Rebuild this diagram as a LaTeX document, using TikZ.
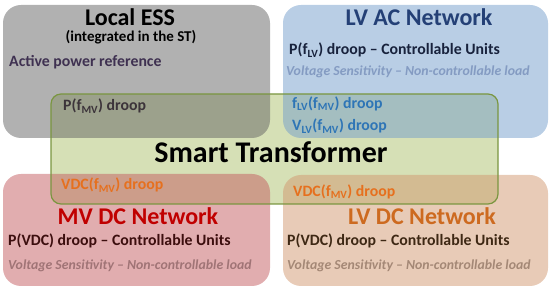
\documentclass[tikz,border=0pt]{standalone}
\usepackage{fontspec}
\setmainfont{Carlito}
\definecolor{stfill}{RGB}{214,224,182}
\definecolor{stline}{RGB}{122,150,64}
\definecolor{essfill}{RGB}{100,100,100}
\definecolor{lvacfill}{RGB}{115,157,203}
\definecolor{mvdcfill}{RGB}{196,92,96}
\definecolor{lvdcfill}{RGB}{210,152,112}
\definecolor{activec}{RGB}{63,49,81}
\definecolor{pfmvc}{RGB}{60,52,58}
\definecolor{lvactitle}{RGB}{36,64,118}
\definecolor{lvacdroop}{RGB}{24,34,60}
\definecolor{lvacvs}{RGB}{132,155,194}
\definecolor{lvacblue}{RGB}{46,117,182}
\definecolor{mvdctitle}{RGB}{192,0,0}
\definecolor{mvdcdroop}{RGB}{60,14,14}
\definecolor{mvdcvs}{RGB}{160,116,118}
\definecolor{vdcorange}{RGB}{230,112,30}
\definecolor{lvdctitle}{RGB}{205,106,32}
\definecolor{lvdcdroop}{RGB}{62,40,20}
\definecolor{lvdcvs}{RGB}{164,136,118}
\begin{document}
\begin{tikzpicture}[x=1pt,y=-1pt,
  boxnode/.style={rectangle, anchor=north west, inner sep=0pt, outer sep=0pt},
  txt/.style={inner sep=0pt, anchor=base west, font=\bfseries\fontsize{15.8}{18}\selectfont},
  ttl/.style={inner sep=0pt, anchor=base, font=\bfseries\fontsize{24}{28}\selectfont},
  vs/.style={inner sep=0pt, anchor=base west, font=\bfseries\itshape\fontsize{13.8}{16}\selectfont},
]
\useasboundingbox (0,0) rectangle (550,291);
% boxes
\node[boxnode, fill=stfill, rounded corners=10pt, minimum width=447pt, minimum height=110pt] (st) at (51,94) {};
\node[boxnode, fill=essfill, fill opacity=0.5, rounded corners=18pt, minimum width=267pt, minimum height=133pt] (ess) at (3,5) {};
\node[boxnode, fill=lvacfill, fill opacity=0.5, rounded corners=18pt, minimum width=265pt, minimum height=133pt] (lvac) at (283,5) {};
\node[boxnode, fill=mvdcfill, fill opacity=0.5, rounded corners=18pt, minimum width=267pt, minimum height=112pt] (mvdc) at (3,174) {};
\node[boxnode, fill=lvdcfill, fill opacity=0.5, rounded corners=18pt, minimum width=265pt, minimum height=111pt] (lvdc) at (283,175) {};
\node[boxnode, draw=stline, line width=1.2pt, rounded corners=10pt, minimum width=447pt, minimum height=110pt] (stborder) at (51,94) {};
% Local ESS
\node[ttl] (esst) at (130,26) {Local ESS};
\node[inner sep=0pt, anchor=base, font=\bfseries\fontsize{15}{18}\selectfont] (essi) at (131,42) {(integrated in the ST)};
\node[txt, text=activec] (essa) at (9,67) {Active power reference};
\node[txt, text=pfmvc] (essp) at (63,111) {P(f\textsubscript{MV}) droop};
% LV AC
\node[ttl, text=lvactitle] (lvact) at (419,26) {LV AC Network};
\node[txt, text=lvacdroop] (lvacp) at (289,55) {P(f\textsubscript{LV}) droop – Controllable Units};
\node[vs, text=lvacvs] (lvacv) at (286,75.5) {Voltage Sensitivity – Non-controllable load};
\node[txt, text=lvacblue] (lvacf) at (292,108.3) {f\textsubscript{LV}(f\textsubscript{MV}) droop};
\node[txt, text=lvacblue] (lvacvv) at (292,131) {V\textsubscript{LV}(f\textsubscript{MV}) droop};
% ST
\node[inner sep=0pt, anchor=base, font=\bfseries\fontsize{30}{34}\selectfont] (stt) at (271,163) {Smart Transformer};
% MV DC
\node[txt, text=vdcorange] (mvdcv) at (61,190) {VDC(f\textsubscript{MV}) droop};
\node[ttl, text=mvdctitle] (mvdct) at (138,225) {MV DC Network};
\node[txt, text=mvdcdroop] (mvdcp) at (8,246) {P(VDC) droop – Controllable Units};
\node[vs, text=mvdcvs] (mvdcs) at (8,270) {Voltage Sensitivity – Non-controllable load};
% LV DC
\node[txt, text=vdcorange] (lvdcv) at (293,196.7) {VDC(f\textsubscript{MV}) droop};
\node[ttl, text=lvdctitle] (lvdct) at (422,225) {LV DC Network};
\node[txt, text=lvdcdroop] (lvdcp) at (287,246) {P(VDC) droop – Controllable Units};
\node[vs, text=lvdcvs] (lvdcs) at (287,270) {Voltage Sensitivity – Non-controllable load};
\end{tikzpicture}
\end{document}
